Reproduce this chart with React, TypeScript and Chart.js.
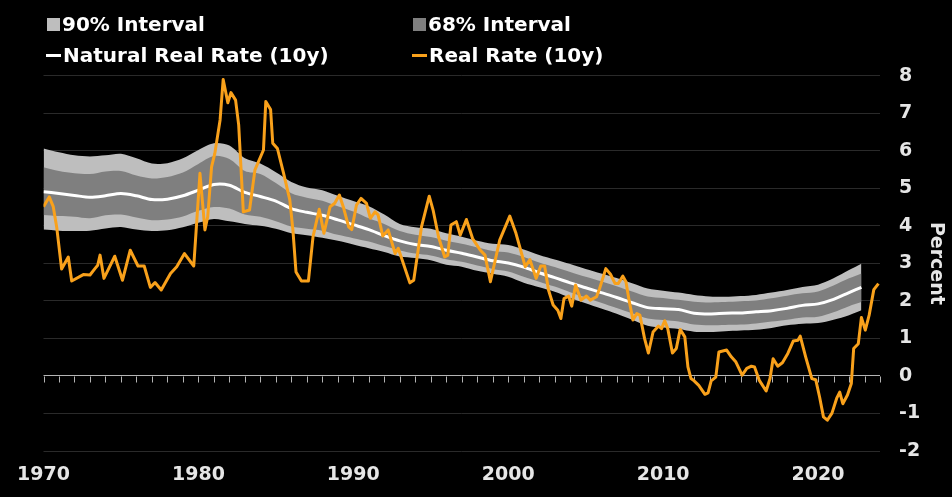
import React, { useEffect, useRef } from "react";
import { Chart, registerables } from "chart.js";

Chart.register(...registerables);

// ---- Data ----
const bandYears = [
  1970, 1971, 1972, 1973, 1974, 1975, 1976, 1977, 1978, 1979,
  1980, 1981, 1982, 1983, 1984, 1985, 1986, 1987, 1988, 1989,
  1990, 1991, 1992, 1993, 1994, 1995, 1996, 1997, 1998, 1999,
  2000, 2001, 2002, 2003, 2004, 2005, 2006, 2007, 2008, 2009,
  2010, 2011, 2012, 2013, 2014, 2015, 2016, 2017, 2018, 2019,
  2020, 2021, 2022, 2022.8,
];
const upper90 = [
  6.06, 5.96, 5.88, 5.85, 5.88, 5.92, 5.8, 5.66, 5.67, 5.8,
  6.02, 6.2, 6.14, 5.8, 5.66, 5.43, 5.17, 5.02, 4.95, 4.8,
  4.66, 4.52, 4.3, 4.05, 3.96, 3.92, 3.8, 3.71, 3.6, 3.52,
  3.49, 3.37, 3.22, 3.1, 2.98, 2.85, 2.73, 2.61, 2.47, 2.33,
  2.27, 2.22, 2.16, 2.12, 2.11, 2.13, 2.16, 2.22, 2.29, 2.37,
  2.43, 2.6, 2.82, 2.99,
];
const upper68 = [
  5.56, 5.46, 5.4, 5.38, 5.45, 5.46, 5.34, 5.26, 5.3, 5.42,
  5.65, 5.86, 5.78, 5.46, 5.38, 5.14, 4.87, 4.75, 4.67, 4.52,
  4.38, 4.2, 4.05, 3.86, 3.76, 3.7, 3.6, 3.52, 3.42, 3.33,
  3.29, 3.17, 3.02, 2.9, 2.77, 2.64, 2.52, 2.39, 2.25, 2.12,
  2.08, 2.03, 1.98, 1.96, 1.97, 1.99, 2.01, 2.07, 2.14, 2.2,
  2.25, 2.41, 2.6, 2.73,
];
const naturalRate = [
  4.91, 4.86, 4.81, 4.76, 4.8, 4.86, 4.8, 4.7, 4.71, 4.8,
  4.95, 5.1, 5.08, 4.89, 4.78, 4.66, 4.46, 4.36, 4.28, 4.16,
  4.03, 3.9, 3.74, 3.6, 3.5, 3.45, 3.35, 3.27, 3.17, 3.07,
  3.01, 2.9, 2.75, 2.62, 2.48, 2.35, 2.22, 2.09, 1.95, 1.82,
  1.79, 1.77, 1.67, 1.65, 1.67, 1.68, 1.71, 1.74, 1.8, 1.88,
  1.92, 2.04, 2.22, 2.36,
];
const lower68 = [
  4.29, 4.26, 4.24, 4.2, 4.28, 4.3, 4.22, 4.15, 4.17, 4.25,
  4.4, 4.5, 4.46, 4.3, 4.24, 4.12, 3.98, 3.92, 3.87, 3.76,
  3.67, 3.58, 3.46, 3.34, 3.26, 3.21, 3.11, 3.04, 2.94, 2.85,
  2.78, 2.64, 2.51, 2.38, 2.23, 2.09, 1.95, 1.81, 1.67, 1.53,
  1.49, 1.45, 1.37, 1.35, 1.36, 1.37, 1.4, 1.45, 1.5, 1.56,
  1.58, 1.7, 1.86, 1.97,
];
const lower90 = [
  3.9, 3.87, 3.86, 3.87, 3.93, 3.97, 3.9, 3.86, 3.88, 3.96,
  4.08, 4.18, 4.12, 4.05, 4.0, 3.92, 3.8, 3.75, 3.68, 3.6,
  3.5, 3.4, 3.3, 3.18, 3.14, 3.08, 2.96, 2.91, 2.8, 2.72,
  2.64, 2.48, 2.36, 2.24, 2.08, 1.94, 1.8, 1.66, 1.5, 1.34,
  1.29, 1.25, 1.18, 1.17, 1.19, 1.21, 1.23, 1.28, 1.35, 1.39,
  1.41, 1.5, 1.62, 1.75,
];

const realYears = [
  1970.0, 1970.37, 1970.63, 1970.85, 1971.17, 1971.6, 1971.82, 1972.57, 1973.0, 1973.32,
  1973.5, 1973.65, 1973.9, 1974.6, 1975.1, 1975.6, 1976.1, 1976.5, 1976.9, 1977.2,
  1977.6, 1978.2, 1978.6, 1979.1, 1979.7, 1980.1, 1980.42, 1980.6, 1980.85, 1981.06,
  1981.4, 1981.6, 1981.9, 1982.1, 1982.4, 1982.6, 1982.9, 1983.3, 1983.65, 1984.2,
  1984.35, 1984.66, 1984.8, 1985.1, 1985.5, 1985.9, 1986.1, 1986.3, 1986.65, 1987.1,
  1987.4, 1987.8, 1988.1, 1988.5, 1988.8, 1989.1, 1989.35, 1989.7, 1989.9, 1990.2,
  1990.5, 1990.85, 1991.1, 1991.4, 1991.6, 1991.9, 1992.25, 1992.7, 1992.9, 1993.65,
  1993.9, 1994.4, 1994.9, 1995.15, 1995.5, 1995.9, 1996.1, 1996.3, 1996.65, 1996.9,
  1997.3, 1997.7, 1998.2, 1998.5, 1998.85, 1999.45, 2000.1, 2000.5, 2001.1, 2001.4,
  2001.8, 2002.1, 2002.35, 2002.6, 2002.9, 2003.2, 2003.4, 2003.6, 2003.9, 2004.1,
  2004.35, 2004.7, 2005.05, 2005.3, 2005.7, 2005.9, 2006.3, 2006.6, 2006.9, 2007.1,
  2007.4, 2007.6, 2007.8, 2008.05, 2008.3, 2008.5, 2008.8, 2009.05, 2009.35, 2009.7,
  2009.9, 2010.1, 2010.3, 2010.6, 2010.85, 2011.1, 2011.4, 2011.6, 2011.8, 2012.0,
  2012.3, 2012.7, 2012.9, 2013.1, 2013.4, 2013.6, 2014.1, 2014.4, 2014.7, 2015.1,
  2015.4, 2015.7, 2015.9, 2016.2, 2016.65, 2016.9, 2017.1, 2017.4, 2017.7, 2018.05,
  2018.4, 2018.7, 2018.85, 2019.2, 2019.6, 2019.85, 2020.1, 2020.35, 2020.6, 2020.9,
  2021.2, 2021.4, 2021.6, 2021.9, 2022.15, 2022.3, 2022.6, 2022.8, 2023.05, 2023.3,
  2023.6, 2023.9,
];
const realRate = [
  4.51, 4.77, 4.51, 3.97, 2.85, 3.17, 2.53, 2.7, 2.69, 2.86,
  2.95, 3.22, 2.6, 3.19, 2.55, 3.35, 2.93, 2.93, 2.36, 2.49,
  2.29, 2.73, 2.91, 3.26, 2.93, 5.4, 3.89, 4.24, 5.57, 5.93,
  6.82, 7.9, 7.28, 7.55, 7.35, 6.69, 4.37, 4.42, 5.49, 6.02,
  7.31, 7.1, 6.2, 6.06, 5.4, 4.69, 3.89, 2.77, 2.53, 2.53,
  3.71, 4.44, 3.8, 4.51, 4.6, 4.82, 4.51, 3.97, 3.9, 4.55,
  4.73, 4.6, 4.2, 4.37, 4.29, 3.73, 3.89, 3.26, 3.4, 2.48,
  2.55, 3.97, 4.79, 4.42, 3.71, 3.17, 3.22, 4.02, 4.11, 3.75,
  4.17, 3.66, 3.35, 3.22, 2.51, 3.62, 4.26, 3.8, 2.91, 3.1,
  2.6, 2.93, 2.93, 2.29, 1.89, 1.75, 1.53, 2.06, 2.13, 1.86,
  2.42, 2.02, 2.13, 2.02, 2.11, 2.33, 2.86, 2.71, 2.46, 2.46,
  2.66, 2.51, 2.02, 1.49, 1.66, 1.62, 1.0, 0.61, 1.17, 1.33,
  1.26, 1.47, 1.26, 0.61, 0.73, 1.24, 1.04, 0.24, -0.07, -0.13,
  -0.25, -0.49, -0.45, -0.13, -0.03, 0.64, 0.69, 0.51, 0.37, 0.02,
  0.2, 0.26, 0.24, -0.11, -0.4, -0.07, 0.46, 0.26, 0.35, 0.6,
  0.93, 0.95, 1.06, 0.51, -0.07, -0.1, -0.56, -1.09, -1.18, -0.99,
  -0.6, -0.43, -0.74, -0.51, -0.2, 0.73, 0.86, 1.56, 1.22, 1.62,
  2.3, 2.46,
];

const xLabelYears = [1970, 1980, 1990, 2000, 2010, 2020];
const yTickValues = [-2, -1, 0, 1, 2, 3, 4, 5, 6, 7, 8];
const minorTickStart = 1970;
const minorTickEnd = 2024;

const FONT = "'DejaVu Sans', sans-serif";
const ORANGE = "#F9A11B";
const LIGHT = "#BEBEBE";
const DARK = "#7F7F7F";

const pts = (xs: number[], ys: number[]) => xs.map((x, i) => ({ x, y: ys[i] }));

const zeroTicksPlugin = {
  id: "zeroTicks",
  beforeDatasetsDraw(chart: any) {
    const { ctx, scales } = chart;
    const x = scales.x;
    const y = scales.y;
    const y0 = Math.round(y.getPixelForValue(0)) + 0.5;
    ctx.save();
    ctx.strokeStyle = "#B4B4B4";
    ctx.lineWidth = 1;
    for (let yr = minorTickStart; yr <= minorTickEnd; yr++) {
      const px = Math.round(x.getPixelForValue(yr)) + 0.5;
      ctx.beginPath();
      ctx.moveTo(px, y0);
      ctx.lineTo(px, y0 + 6);
      ctx.stroke();
    }
    ctx.restore();
  },
};

export default function App() {
  const canvasRef = useRef<HTMLCanvasElement | null>(null);

  useEffect(() => {
    if (!canvasRef.current) return;
    const bandLine = { pointRadius: 0, borderWidth: 0, tension: 0.3 };
    const chart = new Chart(canvasRef.current, {
      type: "line",
      data: {
        datasets: [
          { ...bandLine, label: "lo90", data: pts(bandYears, lower90), order: 5, fill: false, borderColor: "transparent" },
          { ...bandLine, label: "90% Interval", data: pts(bandYears, upper90), order: 4, fill: "-1", backgroundColor: LIGHT, borderColor: "transparent" },
          { ...bandLine, label: "lo68", data: pts(bandYears, lower68), order: 3, fill: false, borderColor: "transparent" },
          { ...bandLine, label: "68% Interval", data: pts(bandYears, upper68), order: 2, fill: "-1", backgroundColor: DARK, borderColor: "transparent" },
          { label: "Natural Real Rate (10y)", data: pts(bandYears, naturalRate), order: 1, fill: false, borderColor: "#FFFFFF", borderWidth: 3, pointRadius: 0, tension: 0.3 },
          { label: "Real Rate (10y)", data: pts(realYears, realRate), order: 0, fill: false, borderColor: ORANGE, borderWidth: 3, pointRadius: 0, tension: 0, borderJoinStyle: "round" },
        ],
      } as any,
      options: {
        animation: false,
        responsive: true,
        maintainAspectRatio: false,
        layout: { padding: { left: 43.5, top: 75.7, right: 1, bottom: 10 } },
        plugins: { legend: { display: false }, tooltip: { enabled: false } },
        scales: {
          x: {
            type: "linear",
            min: 1970,
            max: 2024,
            afterBuildTicks: (scale: any) => {
              scale.ticks = xLabelYears.map((v) => ({ value: v }));
            },
            afterFit: (scale: any) => {
              scale.height = 36;
            },
            grid: { display: false, drawTicks: false },
            border: { display: false },
            ticks: {
              color: "#E6E6E6",
              font: { family: FONT, size: 19, weight: "bold" },
              padding: 13,
              maxRotation: 0,
              callback: (v: any) => String(v),
            },
          },
          y: {
            type: "linear",
            position: "right",
            min: -2,
            max: 8,
            afterBuildTicks: (scale: any) => {
              scale.ticks = yTickValues.map((v) => ({ value: v }));
            },
            afterFit: (scale: any) => {
              scale.width = 71;
            },
            grid: {
              drawTicks: false,
              lineWidth: 1,
              color: (c: any) => (c.tick && c.tick.value === 0 ? "#B4B4B4" : "#2A2A2A"),
            },
            border: { display: false },
            ticks: {
              color: "#E6E6E6",
              font: { family: FONT, size: 19, weight: "bold" },
              padding: 19,
            },
            title: {
              display: true,
              text: "Percent",
              color: "#E6E6E6",
              font: { family: FONT, size: 19, weight: "bold" },
              padding: 4,
            },
          },
        },
      } as any,
      plugins: [zeroTicksPlugin],
    });
    return () => chart.destroy();
  }, []);

  const textStyle: React.CSSProperties = {
    position: "absolute",
    display: "flex",
    alignItems: "center",
    height: 24,
    color: "#FFFFFF",
    fontFamily: FONT,
    fontWeight: "bold",
    fontSize: 20,
    whiteSpace: "nowrap",
  };
  const square = (c: string): React.CSSProperties => ({ width: 13, height: 13, background: c, marginRight: 2, flex: "none" });
  const dash = (c: string): React.CSSProperties => ({ width: 15, height: 3, background: c, marginRight: 2, flex: "none" });

  return (
    <div style={{ position: "fixed", left: 0, top: 0, width: 952, height: 497, background: "#000", overflow: "hidden" }}>
      <canvas ref={canvasRef} style={{ position: "absolute", left: 0, top: 0, width: 952, height: 497 }} />
      <div style={{ ...textStyle, left: 47, top: 12 }}>
        <span style={square(LIGHT)} />
        <span>90% Interval</span>
      </div>
      <div style={{ ...textStyle, left: 413, top: 12 }}>
        <span style={square(DARK)} />
        <span>68% Interval</span>
      </div>
      <div style={{ ...textStyle, left: 46, top: 43 }}>
        <span style={dash("#FFFFFF")} />
        <span>Natural Real Rate (10y)</span>
      </div>
      <div style={{ ...textStyle, left: 412, top: 43 }}>
        <span style={dash(ORANGE)} />
        <span>Real Rate (10y)</span>
      </div>
    </div>
  );
}
